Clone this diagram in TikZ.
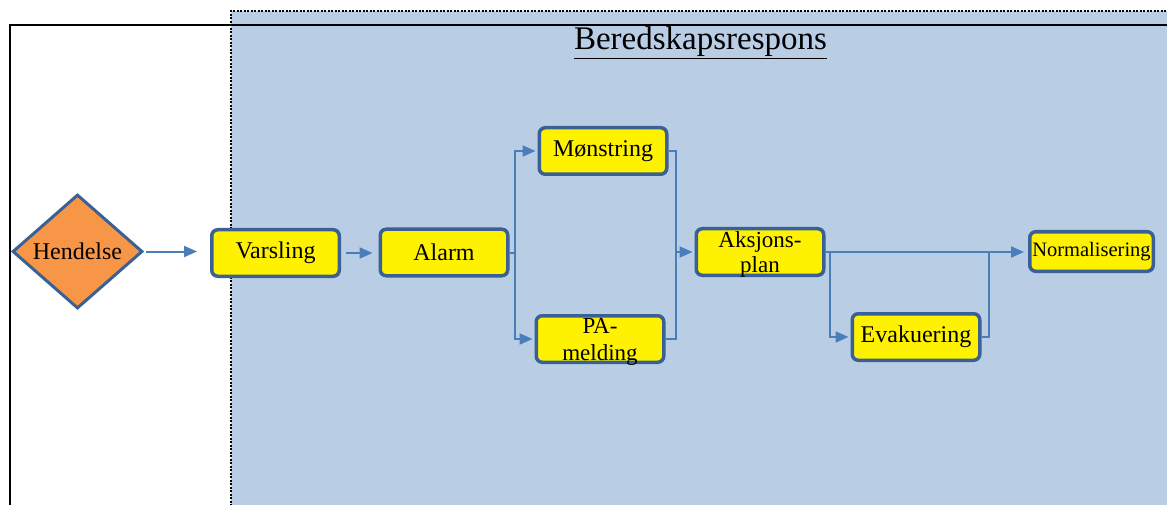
\documentclass[tikz,border=0pt]{standalone}
\usepackage{fontspec}
\setmainfont{Liberation Serif}
\usepackage{xcolor}
\usetikzlibrary{calc}
\usetikzlibrary{arrows.meta}
\usetikzlibrary{shapes.geometric}
\definecolor{respblue}{HTML}{B9CDE5}
\definecolor{hendorange}{HTML}{F79646}
\definecolor{rimblue}{HTML}{3B6194}
\definecolor{linkblue}{HTML}{4A7EBB}
\tikzset{
  stepbox/.style={draw=rimblue, line width=3.5pt, fill=yellow, rounded corners=6pt,
    minimum width=127.5pt, minimum height=46.5pt, inner sep=1pt, align=center,
    font=\fontsize{24}{26}\selectfont},
  link/.style={linkblue, line width=2pt},
  linkarr/.style={link, -{Triangle[length=13pt,width=11pt]}, shorten >=2pt}
}

\begin{document}
\begin{tikzpicture}[x=1pt,y=-1pt]
\useasboundingbox (0,0) rectangle (1167,505);
\begin{scope}
\clip (0,0) rectangle (1167,505);
% response area and frame
\fill[respblue] (231,11) rectangle (1180,520);
\draw[black, line width=2pt, dash pattern=on 2pt off 1.5pt] (231,520) -- (231,11) -- (1180,11);
\draw[black, line width=2.5pt] (10,520) -- (10,25) -- (1180,25);
\end{scope}
\node[anchor=base, font=\fontsize{33}{36}\selectfont] (title) at (700.5,50) {\underline{Beredskapsrespons}};

% steps
\node[diamond, draw=rimblue, line width=3pt, fill=hendorange, minimum width=130pt, minimum height=114pt,
  inner sep=0pt, font=\fontsize{24}{26}\selectfont] (hend) at (77.5,251.5) {Hendelse};
\node[stepbox] (vars) at (275.5,253) {Varsling};
\node[stepbox] (alarm) at (444,252.5) {Alarm};
\node[stepbox] (monst) at (603,151) {Mønstring};
\node[stepbox, text depth=0pt, font=\fontsize{23}{27}\selectfont] (pa) at (600,339) {PA-\\melding};
\node[stepbox, text depth=0pt, font=\fontsize{23}{25}\selectfont] (aks) at (760,252) {Aksjons-\\plan};
\node[stepbox] (evak) at (916,337) {Evakuering};
\node[stepbox, minimum width=123.5pt, minimum height=39.5pt, font=\fontsize{20.5}{22}\selectfont] (norm) at (1091.5,251.5) {Normalisering};

% links
\draw[linkarr, shorten <=2pt, shorten >=13pt] (hend.east) -- (hend.east -| vars.west);
\draw[linkarr, shorten <=5pt, shorten >=6pt] (vars.east) -- (vars.east -| alarm.west);
\draw[link] (alarm.east) -- ++(5,0) coordinate (split);
\draw[linkarr] (split) |- (monst.west);
\draw[linkarr] (split) |- (pa.west);
\draw[link] (monst.east) -- ++(7,0) coordinate (join) -- (join |- pa.east) -- (pa.east);
\draw[linkarr] (join |- aks.west) -- (aks.west);
\draw[linkarr, shorten >=4pt] (aks.east) -- (aks.east -| norm.west);
\draw[link] (aks.east) -- ++(4,0) coordinate (splitb);
\draw[linkarr] (splitb) |- (evak.west);
\draw[link] (evak.east) -- ++(7,0) coordinate (joinb) -- (joinb |- aks.east);
\end{tikzpicture}
\end{document}
